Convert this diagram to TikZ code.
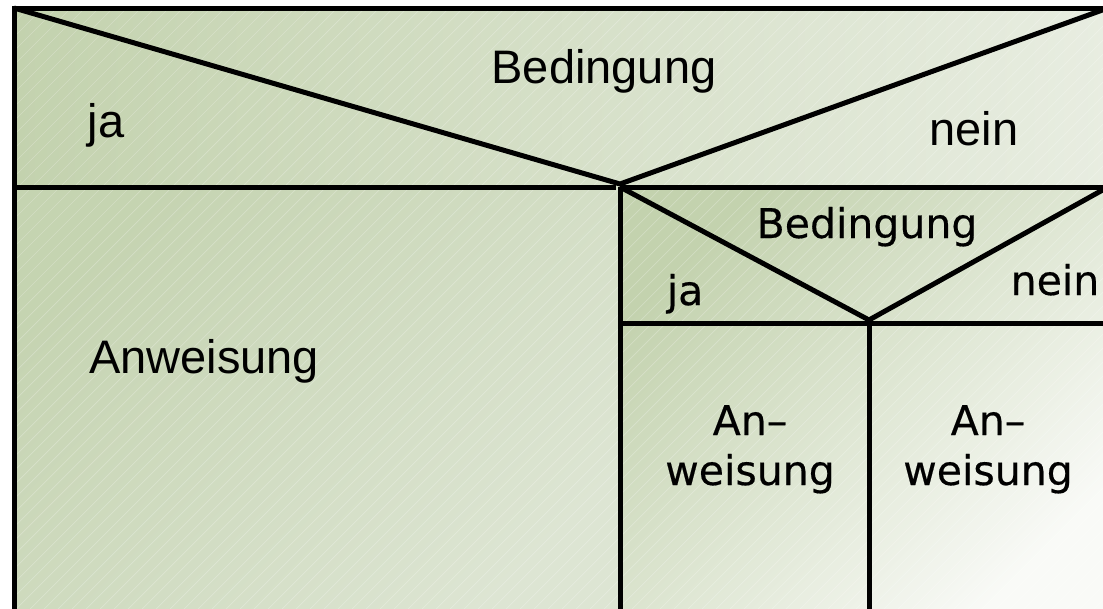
\documentclass[tikz,border=0pt]{standalone}
\usepackage{fontspec}
\setmainfont{Liberation Sans}
\newfontfamily\innerfont[FakeBold=0.4]{DejaVu Sans}
\definecolor{gdark}{HTML}{C3D2AE}
\definecolor{gmid}{HTML}{D2DDC5}
\definecolor{glight}{HTML}{E8EDE1}
\definecolor{gleft}{HTML}{DDE5D3}
\definecolor{gwhite}{HTML}{F9FAF7}
\tikzset{
  struct/.style={line width=5pt, line cap=butt, line join=miter},
  outertext/.style={inner sep=0pt, anchor=base, font=\fontsize{47}{54}\selectfont},
  innertext/.style={inner sep=0pt, anchor=base, font=\innerfont\fontsize{41}{50}\selectfont},
  hatch/.style={white, opacity=0.25, line width=0.7pt}
}
\begin{document}
\begin{tikzpicture}[x=1pt, y=-1pt]
\useasboundingbox (0,0) rectangle (1103,608);
\clip (0,0) rectangle (1103,608);
\fill[white] (0,0) rectangle (1103,608);
% named points
\coordinate (TL) at (14,8);
\coordinate (TR) at (1108,8);
\coordinate (BL) at (14,625);
\coordinate (BR) at (1108,625);
\coordinate (HL) at (14,187);
\coordinate (HM) at (616,187);
\coordinate (V1) at (620,184);
\coordinate (IL) at (620,187);
\coordinate (IR) at (1108,187);
\coordinate (IV) at (869,320);
\coordinate (JL) at (620,323);
\coordinate (JR) at (1108,323);
\coordinate (IB) at (620,625);
\coordinate (KB) at (869,625);
% backgrounds
\shade[left color=gdark, right color=glight] (TL) rectangle (IR);
\shade[top color=gdark!85!gmid, bottom color=gleft, shading angle=45] (HL) rectangle (IB);
\shade[top color=gdark, bottom color=gwhite, shading angle=45] (IL) rectangle (BR);
% hatch
\begin{scope}
\clip (TL) rectangle (BR);
\foreach \i in {-700,-686,...,1120} \draw[hatch] (\i,625) -- (\i+640,-15);
\end{scope}
% structure lines
\draw[struct] (TL) rectangle (BR);
\draw[struct] (TL) -- (V1) -- (TR);
\draw[struct] (HL) -- (HM);
\draw[struct] (IL) -- (IR);
\draw[struct] (IL) -- (IB);
\draw[struct] (IL) -- (IV) -- (IR);
\draw[struct] (JL) -- (JR);
\draw[struct] (IV) -- (KB);
% texts
\node[outertext] (cond1) at (604,83) {Bedingung};
\node[outertext] (ja1) at (106,137) {ja};
\node[outertext] (nein1) at (974,145) {nein};
\node[outertext] (anw1) at (204,373) {Anweisung};
\node[innertext] (cond2) at (867,238) {Bedingung};
\node[innertext] (ja2) at (685,305) {ja};
\node[innertext] (nein2) at (1055,295) {nein};
\node[innertext] (anw2a) at (750,435) {An–};
\node[innertext] (anw2b) at (750,485) {weisung};
\node[innertext] (anw3a) at (988,435) {An–};
\node[innertext] (anw3b) at (988,485) {weisung};
\end{tikzpicture}
\end{document}
